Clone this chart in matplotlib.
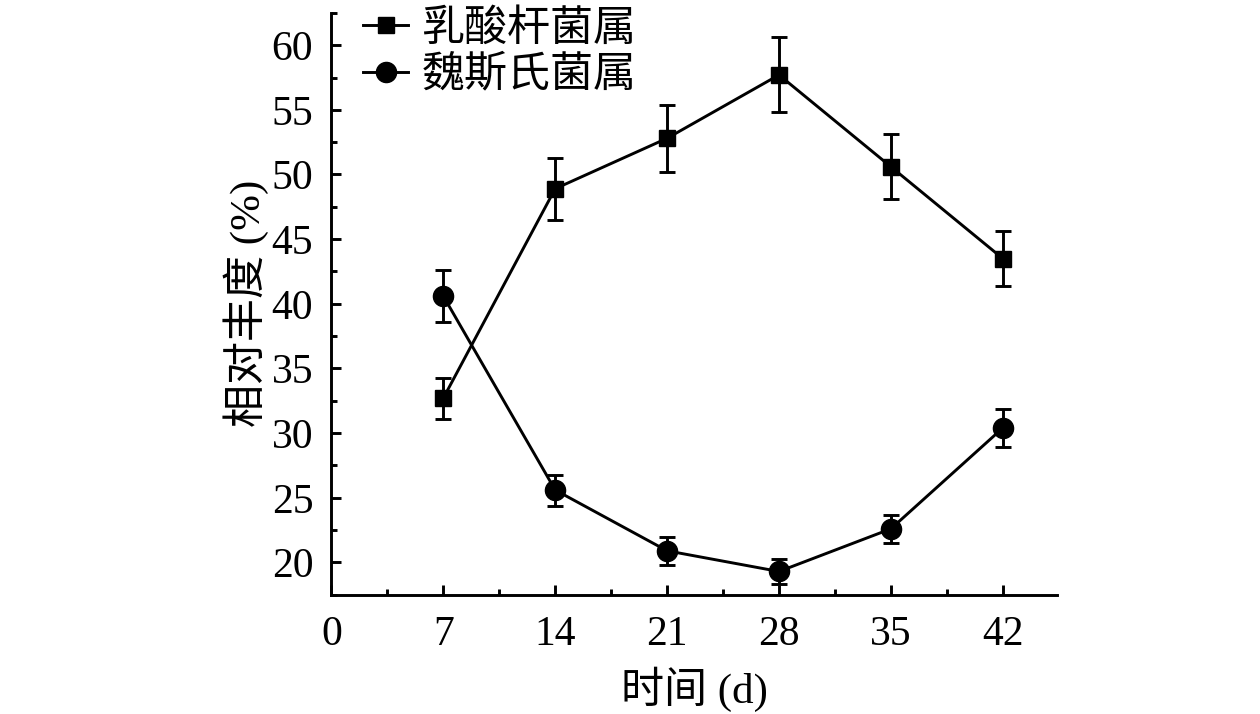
import numpy as np
import matplotlib
matplotlib.use('Agg')
import matplotlib.pyplot as plt
from matplotlib.ticker import MultipleLocator

plt.rcParams['font.family'] = ['Liberation Serif', 'Noto Sans CJK SC']
plt.rcParams['axes.unicode_minus'] = False

# 数据
days = [7, 14, 21, 28, 35, 42]
lacto = [32.7, 48.9, 52.8, 57.7, 50.6, 43.5]
lacto_err = [1.6, 2.4, 2.6, 2.9, 2.5, 2.1]
weissella = [40.6, 25.6, 20.9, 19.3, 22.6, 30.4]
weissella_err = [2.0, 1.2, 1.1, 1.0, 1.1, 1.5]

fig = plt.figure(figsize=(12.6, 7.14), dpi=100)
ax = fig.add_axes([0.263, 0.167, 0.576, 0.815])

lw = 2.1
ax.errorbar(days, lacto, yerr=lacto_err, fmt='s-', color='black',
            markersize=12, linewidth=lw, elinewidth=lw, capsize=6,
            capthick=lw, label='乳酸杆菌属')
ax.errorbar(days, weissella, yerr=weissella_err, fmt='o-', color='black',
            markersize=14.5, linewidth=lw, elinewidth=lw, capsize=6,
            capthick=lw, label='魏斯氏菌属')

ax.set_xlim(0, 45.4)
ax.set_ylim(17.5, 62.5)
ax.xaxis.set_major_locator(MultipleLocator(7))
ax.xaxis.set_minor_locator(MultipleLocator(3.5))
ax.yaxis.set_major_locator(MultipleLocator(5))
ax.yaxis.set_minor_locator(MultipleLocator(2.5))

for s in ['top', 'right']:
    ax.spines[s].set_visible(False)
for s in ['left', 'bottom']:
    ax.spines[s].set_linewidth(2.1)

ax.tick_params(which='major', direction='in', length=7, width=2.1,
               labelsize=30)
ax.tick_params(axis='y', which='major', pad=13)
ax.tick_params(axis='x', which='major', pad=15)
ax.tick_params(which='minor', direction='in', length=4, width=2.1)

ax.set_xlabel('时间 (d)', fontsize=31, labelpad=9)
ax.set_ylabel('相对丰度 (%)', fontsize=31, labelpad=2)

# 图例
handles, labels = ax.get_legend_handles_labels()
handles = [h[0] for h in handles]
ax.legend(handles, labels, loc='upper left', bbox_to_anchor=(0.02, 1.035),
          frameon=False, fontsize=31, handlelength=1.05, handletextpad=0.3,
          labelspacing=0.15, borderaxespad=0)

plt.savefig('out.png', dpi=100)
